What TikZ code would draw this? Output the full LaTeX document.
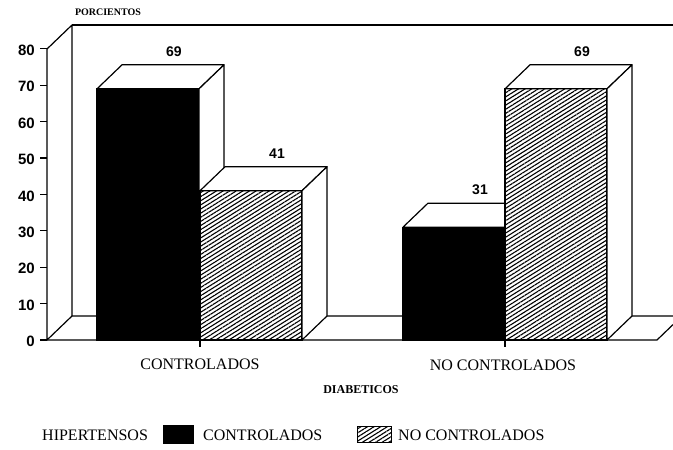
\documentclass[tikz,border=0pt]{standalone}
\usepackage{fontspec}
\setmainfont{Liberation Serif}
\setsansfont{Liberation Sans}
\usetikzlibrary{patterns.meta}
\pgfdeclarelayer{bg}
\pgfsetlayers{bg,main}
\tikzset{
    every node/.style={inner sep=0pt},
    ticklabel/.style={font=\sffamily\bfseries\fontsize{15}{15}\selectfont, anchor=east},
    barvalue/.style={font=\sffamily\bfseries\fontsize{14}{14}\selectfont},
    catlabel/.style={font=\fontsize{16}{16}\selectfont},
    axistitle/.style={font=\bfseries\fontsize{10}{10}\selectfont},
    wall/.style={line width=1.2pt, line join=round},
    face/.style={draw, line width=1.2pt, fill=white, line join=round},
    solidbar/.style={draw, line width=1.2pt, fill=black},
    hatchbar/.style={draw, line width=1.2pt, preaction={fill=white},
        pattern={Lines[angle=32, distance=3.5pt, line width=1.1pt]}}
}

\begin{document}
\begin{tikzpicture}[x=1pt, y=-1pt]
    \useasboundingbox (0,0) rectangle (673,450);

    \coordinate (orig) at (47,340);
    \coordinate (origback) at (72,316);
    \coordinate (ytop) at (47,49);
    \coordinate (ytopback) at (72,25);

    \begin{pgfonlayer}{bg}
        \draw[wall] (ytop) -- (orig) -- (origback) -- (673,316);
        \draw[wall] (ytop) -- (ytopback) -- (origback);
        \draw[wall] (ytopback) -- (673,25);
        \draw[wall] (orig) -- (657,340) -- (673,324.6);
    \end{pgfonlayer}

    \foreach \v in {0,10,...,80} {
        \draw[wall] (40,340-3.64*\v) -- (47,340-3.64*\v);
        \node (tick\v) [ticklabel] at (35,341.5-3.64*\v) {\v};
    }
    \draw[wall] (200,340) -- (200,347);
    \draw[wall] (505,340) -- (505,347);

    \foreach \xa/\val/\st [count=\i] in {97/69/solidbar, 200/41/hatchbar, 403/31/solidbar, 505/69/hatchbar} {
        \pgfmathsetmacro{\yt}{340-3.64*\val}
        \pgfmathsetmacro{\yb}{\yt-24}
        \pgfmathsetmacro{\xr}{\xa+102}
        \path[\st] (\xa,340) rectangle (\xr,\yt);
        \path[face] (\xa,\yt) -- (\xa+25,\yb) -- (\xr+25,\yb) -- (\xr,\yt) -- cycle;
        \path[face] (\xr,\yt) -- (\xr+25,\yb) -- (\xr+25,316) -- (\xr,340) -- cycle;
        \node (val\i) [barvalue] at (\xa+77,\yb-13) {\val};
    }

    \node (porc) [axistitle] at (108,12) {PORCIENTOS};
    \node (contr) [catlabel] at (200,364) {CONTROLADOS};
    \node (nocontr) [catlabel] at (503,365) {NO\hspace{4pt}CONTROLADOS};
    \node (diab) [axistitle, font=\bfseries\fontsize{12}{12}\selectfont] at (361,390) {DIABETICOS};

    % legend
    \node (hiper) [catlabel, anchor=west] at (42,435) {HIPERTENSOS};
    \node (keysolid) [solidbar, line width=0pt, minimum width=30pt, minimum height=18pt] at (178,434) {};
    \node (keyc) [catlabel, anchor=west] at (203,435) {CONTROLADOS};
    \node (keyhatch) [hatchbar, line width=0.8pt, minimum width=34pt, minimum height=16pt] at (374,434) {};
    \node (keync) [catlabel, anchor=west] at (398,435) {NO\hspace{4pt}CONTROLADOS};
\end{tikzpicture}
\end{document}
